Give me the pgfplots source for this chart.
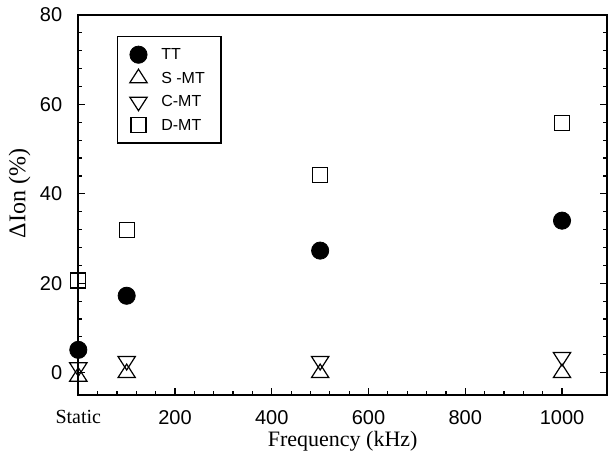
\documentclass[border=0pt]{standalone}
\usepackage{pgfplots}
\pgfplotsset{compat=1.18}
\usepackage{fontspec}
\setmainfont{Liberation Serif}
\setsansfont{Liberation Sans}
\begin{document}
\begin{tikzpicture}
\begin{axis}[
  scale only axis,
  width=264.35pt, height=190pt,
  xmin=0, xmax=1093, ymin=-5, ymax=80,
  xtick={0,200,400,600,800,1000},
  xticklabels={\textrm{Static},200,400,600,800,1000},
  minor x tick num=4,
  ytick={0,20,40,60,80},
  minor y tick num=4,
  xtick pos=bottom, ytick pos=both,
  tick align=inside,
  major tick length=3.5pt, minor tick length=2pt,
  tick style={black, line width=0.6pt},
  axis line style={line width=1.2pt},
  ticklabel style={font=\sffamily\fontsize{10}{12}\selectfont},
  xticklabel style={yshift=-4pt},
  yticklabel style={xshift=-4.5pt},
  /pgf/number format/assume math mode=true,
  xlabel={Frequency (kHz)},
  ylabel={ΔIon (\%)},
  xlabel style={font=\rmfamily\fontsize{11}{13}\selectfont, at={(axis description cs:0.5,-0.122)}, anchor=center},
  ylabel style={font=\rmfamily\fontsize{12}{14}\selectfont, at={(axis description cs:-0.111,0.53)}, anchor=center, rotate=0},
  legend style={at={(0.073,0.945)}, anchor=north west, draw=black, line width=0.8pt,
    font=\sffamily\fontsize{8}{9.5}\selectfont, inner xsep=6pt, inner ysep=3.5pt, row sep=0.75pt,
    nodes={text height=6pt, text depth=1pt, inner sep=2pt}},
  legend image code/.code={%
    \path (-4pt,0pt) (9pt,0pt);
    \draw[#1, overlay] plot[only marks] coordinates {(0pt,0pt)};},
  legend cell align=left,
  clip=false,
]
\coordinate (bl) at (rel axis cs:0,0);
\coordinate (tr) at (rel axis cs:1,1);
\addplot[only marks, mark=*, mark size=4.3pt, mark options={fill=black, draw=black, line width=0.4pt}]
  coordinates {(0,5.1)(100,17.2)(500,27.3)(1000,34.0)};
\addlegendentry{TT}
\addplot[only marks, mark=triangle, mark size=5pt, mark options={draw=black, fill=none, line width=0.6pt, yscale=0.9}]
  coordinates {(0,-0.9)(100,-0.1)(500,-0.1)(1000,-0.1)};
\addlegendentry{S -MT}
\addplot[only marks, mark=triangle, mark size=5pt, mark options={draw=black, fill=none, line width=0.6pt, yscale=-0.9}]
  coordinates {(0,1.2)(100,2.6)(500,2.6)(1000,3.5)};
\addlegendentry{C-MT}
\addplot[only marks, mark=square, mark size=3.75pt, mark options={draw=black, fill=none, line width=0.6pt}]
  coordinates {(0,20.6)(100,31.9)(500,44.2)(1000,55.8)};
\addlegendentry{D-MT}
\end{axis}
\pgfresetboundingbox
\path ([xshift=-39.15pt,yshift=-30pt]bl) rectangle ([xshift=0.5pt,yshift=7.5pt]tr);
\end{tikzpicture}
\end{document}
